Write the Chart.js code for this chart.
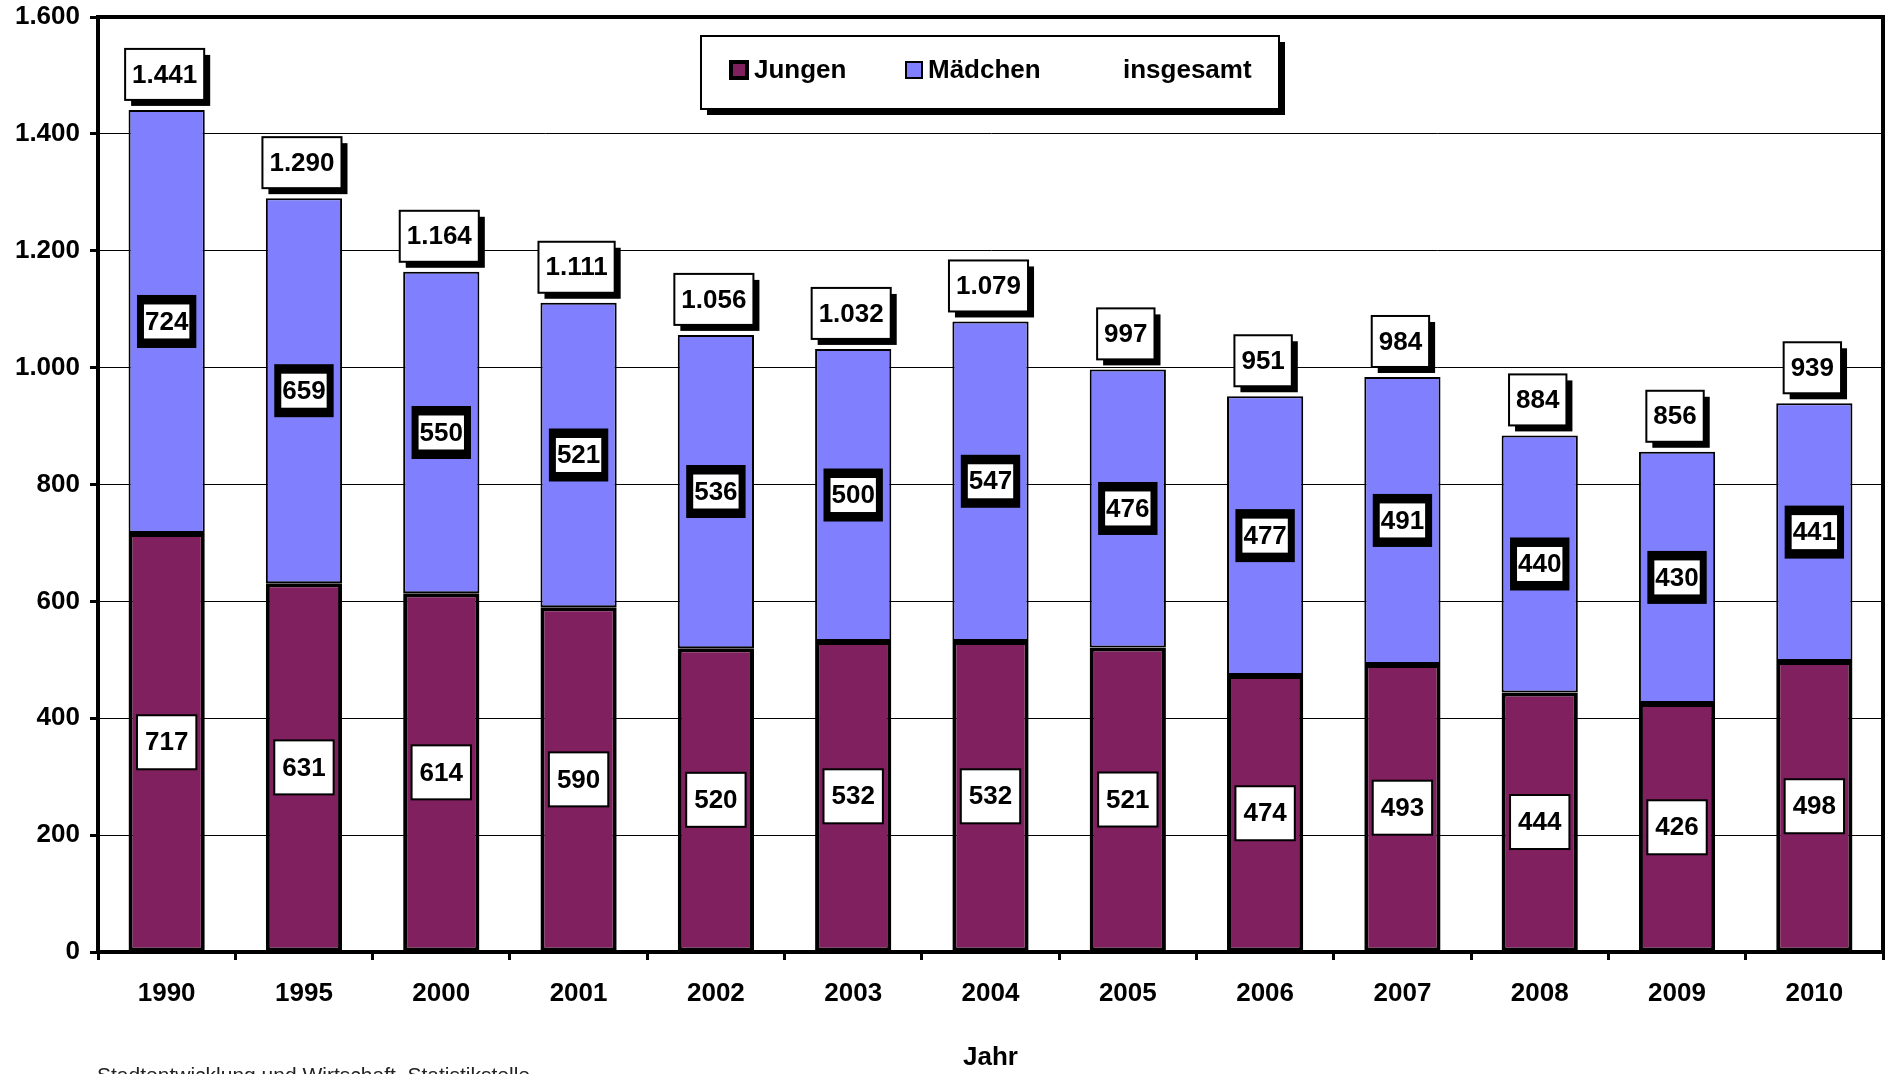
<!DOCTYPE html>
<html>
<head>
<meta charset="utf-8">
<title>Jungen und Mädchen</title>
<script src="https://cdn.jsdelivr.net/npm/chart.js@4/dist/chart.umd.min.js"></script>
<style>
  html, body { margin: 0; padding: 0; background: #fff; }
  #wrap { width: 1895px; height: 1074px; position: relative; }
</style>
</head>
<body>
<div id="wrap"><canvas id="chart"></canvas></div>
<script>
const years = ['1990', '1995', '2000', '2001', '2002', '2003', '2004', '2005', '2006', '2007', '2008', '2009', '2010'];
const jungen = [717, 631, 614, 590, 520, 532, 532, 521, 474, 493, 444, 426, 498];
const maedchen = [724, 659, 550, 521, 536, 500, 547, 476, 477, 491, 440, 430, 441];
const insgesamt = [1441, 1290, 1164, 1111, 1056, 1032, 1079, 997, 951, 984, 884, 856, 939];
const yTicks = [0, 200, 400, 600, 800, 1000, 1200, 1400, 1600];

const FONT = '"Liberation Sans", Arial, sans-serif';

// german thousands separator
function fmt(v) {
  return String(v).replace(/\B(?=(\d{3})+(?!\d))/g, '.');
}

const boxLabels = {
  id: 'boxLabels',
  afterDatasetsDraw(chart) {
    const ctx = chart.ctx;
    ctx.save();
    ctx.font = 'bold 26px ' + FONT;
    ctx.textAlign = 'center';
    ctx.textBaseline = 'middle';

    // Jungen: white box, thin border
    chart.getDatasetMeta(0).data.forEach((bar, i) => {
      const txt = fmt(jungen[i]);
      const tw = ctx.measureText(txt).width;
      const w = tw + 16, h = 54;
      const cy = (bar.y + bar.base) / 2;
      ctx.fillStyle = '#fff';
      ctx.fillRect(bar.x - w / 2, cy - h / 2, w, h);
      ctx.lineWidth = 2;
      ctx.strokeStyle = '#000';
      ctx.strokeRect(bar.x - w / 2, cy - h / 2, w, h);
      ctx.fillStyle = '#000';
      ctx.fillText(txt, bar.x, cy + 1);
    });

    // Mädchen: thick black frame
    chart.getDatasetMeta(1).data.forEach((bar, i) => {
      const txt = fmt(maedchen[i]);
      const tw = ctx.measureText(txt).width;
      const cy = (bar.y + bar.base) / 2;
      const ow = tw + 16, oh = 53;
      const iw = tw + 2, ih = 34;
      ctx.fillStyle = '#000';
      ctx.fillRect(bar.x - ow / 2, cy - oh / 2, ow, oh);
      ctx.fillStyle = '#fff';
      ctx.fillRect(bar.x - iw / 2, cy - ih / 2, iw, ih);
      ctx.fillStyle = '#000';
      ctx.fillText(txt, bar.x, cy + 1);
    });

    // insgesamt: white box with shadow above the stack
    chart.getDatasetMeta(2).data.forEach((pt, i) => {
      const txt = fmt(insgesamt[i]);
      const tw = ctx.measureText(txt).width;
      const w = tw + 14, h = 51;
      const x = pt.x - 2 - w / 2;
      const y = pt.y - 10 - h;
      ctx.fillStyle = '#000';
      ctx.fillRect(x + 6, y + 6, w, h);
      ctx.fillStyle = '#fff';
      ctx.fillRect(x, y, w, h);
      ctx.lineWidth = 2;
      ctx.strokeStyle = '#000';
      ctx.strokeRect(x, y, w, h);
      ctx.fillStyle = '#000';
      ctx.fillText(txt, pt.x - 2, y + h / 2 + 1);
    });
    ctx.restore();
  },
  afterDraw(chart) {
    const ctx = chart.ctx;
    const a = chart.chartArea;
    ctx.save();

    // frame around plot area
    ctx.lineWidth = 4;
    ctx.strokeStyle = '#000';
    ctx.strokeRect(a.left, a.top, a.right - a.left, a.bottom - a.top);

    // legend box
    const lx = 701, ly = 36, lw = 578, lh = 73;
    ctx.fillStyle = '#000';
    ctx.fillRect(lx + 6, ly + 6, lw, lh);
    ctx.fillStyle = '#fff';
    ctx.fillRect(lx, ly, lw, lh);
    ctx.lineWidth = 2;
    ctx.strokeRect(lx, ly, lw, lh);

    const ds = chart.data.datasets;
    const items = [
      { sx: 731, tx: 754, d: ds[0] },
      { sx: 906, tx: 928, d: ds[1] },
      { sx: null, tx: 1123, d: ds[2] }
    ];
    ctx.font = 'bold 26px ' + FONT;
    ctx.textAlign = 'left';
    ctx.textBaseline = 'middle';
    items.forEach(it => {
      if (it.sx !== null) {
        ctx.fillStyle = it.d.backgroundColor;
        ctx.fillRect(it.sx, 62, 16, 16);
        ctx.lineWidth = it.d === ds[0] ? 4 : 2;
        ctx.strokeStyle = '#000';
        ctx.strokeRect(it.sx, 62, 16, 16);
      }
      ctx.fillStyle = '#000';
      ctx.fillText(it.d.label, it.tx, 71);
    });

    // axis title
    ctx.font = 'bold 26px ' + FONT;
    ctx.textAlign = 'center';
    ctx.fillText('Jahr', (a.left + a.right) / 2, 1058);

    // source note (cut at the bottom edge)
    ctx.font = '21px ' + FONT;
    ctx.textAlign = 'left';
    ctx.textBaseline = 'top';
    ctx.fillStyle = '#222';
    ctx.fillText('Stadtentwicklung und Wirtschaft, Statistikstelle', 97, 1066);
    ctx.restore();
  }
};

new Chart(document.getElementById('chart'), {
  type: 'bar',
  data: {
    labels: years,
    datasets: [
      {
        label: 'Jungen',
        data: jungen,
        backgroundColor: '#80205F',
        borderColor: '#000',
        borderWidth: 4,
        borderSkipped: false,
        stack: 'kinder'
      },
      {
        label: 'Mädchen',
        data: maedchen,
        backgroundColor: '#8080FF',
        borderColor: '#000',
        borderWidth: 2,
        borderSkipped: false,
        stack: 'kinder'
      },
      {
        type: 'line',
        label: 'insgesamt',
        data: insgesamt,
        showLine: false,
        pointRadius: 0,
        stack: 'gesamt'
      }
    ]
  },
  options: {
    responsive: true,
    maintainAspectRatio: false,
    animation: false,
    layout: { padding: { left: 0, top: 17, right: 12, bottom: 0 } },
    datasets: {
      bar: { barPercentage: 0.555, categoryPercentage: 1 }
    },
    plugins: {
      legend: { display: false },
      tooltip: { enabled: false }
    },
    scales: {
      x: {
        stacked: true,
        offset: true,
        grid: {
          offset: true,
          drawOnChartArea: false,
          drawTicks: true,
          tickLength: 8,
          tickWidth: 3,
          tickColor: '#000'
        },
        border: { display: true, color: '#000', width: 4 },
        ticks: {
          color: '#000',
          font: { family: FONT, size: 26, weight: 'bold' },
          padding: 18,
          maxRotation: 0
        },
        afterFit(scale) { scale.height = 122; }
      },
      y: {
        stacked: true,
        min: 0,
        max: 1600,
        afterBuildTicks(scale) {
          scale.ticks = yTicks.map(v => ({ value: v }));
        },
        grid: {
          color: '#000',
          lineWidth: 1,
          drawTicks: true,
          tickLength: 8,
          tickWidth: 3,
          tickColor: '#000'
        },
        border: { display: true, color: '#000', width: 4 },
        ticks: {
          color: '#000',
          font: { family: FONT, size: 26, weight: 'bold' },
          padding: 10,
          callback: v => fmt(v)
        },
        afterFit(scale) {
          scale.width = 98;
          scale.paddingTop = 0;
          scale.paddingBottom = 0;
        }
      }
    }
  },
  plugins: [boxLabels]
});
</script>
</body>
</html>
